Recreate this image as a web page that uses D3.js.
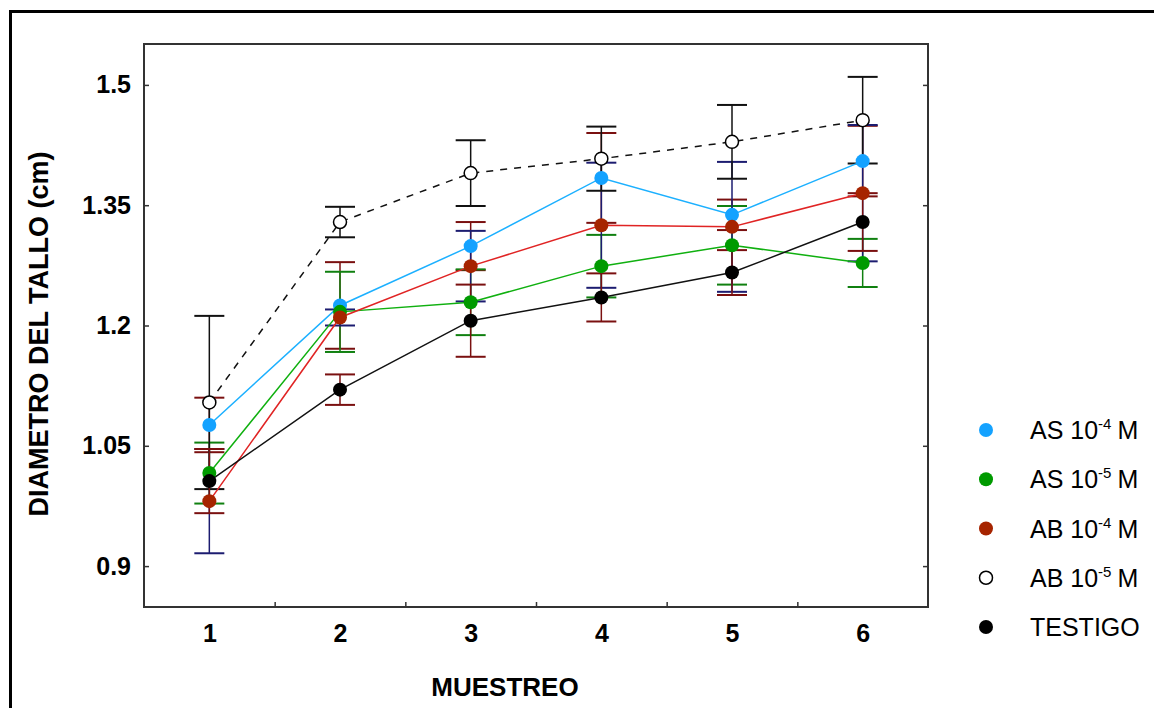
<!DOCTYPE html>
<html>
<head>
<meta charset="utf-8">
<script src="https://cdn.jsdelivr.net/npm/d3@7"></script>
<style>
	body { margin: 0; background: #fff; }
	svg { display: block; font-family: "Liberation Sans", Arial, sans-serif; }
	.tick-label text { font-size: 25px; font-weight: bold; fill: #000; }
	.axis-title { font-size: 26px; font-weight: bold; fill: #000; }
	.legend-label { font-size: 25px; fill: #000; }
</style>
</head>
<body>
<svg id="plot"></svg>
<script>
const WIDTH = 1154;
const HEIGHT = 708;

const plot = d3.select("#plot").attr("width", WIDTH).attr("height", HEIGHT);

// data
const muestreo = [1, 2, 3, 4, 5, 6];
const asMinus4 = [1.076, 1.225, 1.299, 1.384, 1.338, 1.405];
const asMinus4Err = [0.034, 0.054, 0.030, 0.056, 0.019, 0.044];
const asMinus5 = [1.016, 1.217, 1.229, 1.274, 1.300, 1.278];
const asMinus5Err = [0.038, 0.050, 0.041, 0.039, 0.049, 0.030];
const abMinus4 = [0.981, 1.210, 1.274, 1.325, 1.323, 1.365];
const abMinus4Err = [0.065, 0.010, 0.044, 0.078, 0.081, 0.085];
const abMinus5 = [1.104, 1.329, 1.390, 1.408, 1.429, 1.456];
const abMinus5Err = [0.108, 0.019, 0.041, 0.040, 0.046, 0.054];
const testigo = [1.006, 1.120, 1.206, 1.235, 1.266, 1.329];
const testigoErr = [0.040, 0.019, 0.045, 0.030, 0.028, 0.036];

const yTicks = [0.9, 1.05, 1.2, 1.35, 1.5];
const xMinorTicks = [1.5, 2.5, 3.5, 4.5, 5.5];
const legendBase = ["AS 10", "AS 10", "AB 10", "AB 10", "TESTIGO"];
const legendExp = ["-4", "-5", "-4", "-5", ""];

const seriesList = [
	{ values: asMinus4, errs: asMinus4Err, line: "#1cb0ff", marker: "#14a2ff", bar: "#7a1010", open: false, dash: null },
	{ values: asMinus5, errs: asMinus5Err, line: "#10b010", marker: "#009a00", bar: "#108010", open: false, dash: null },
	{ values: abMinus4, errs: abMinus4Err, line: "#e02424", marker: "#a62400", bar: "#1c1c70", open: false, dash: null },
	{ values: abMinus5, errs: abMinus5Err, line: "#111", marker: "#000", bar: "#111", open: true, dash: "7,7" },
	{ values: testigo, errs: testigoErr, line: "#111", marker: "#000", bar: "#7a1010", open: false, dash: null },
];

const box = { left: 144, top: 44, right: 928, bottom: 607 };
const xScale = d3.scaleLinear([0.5, 6.5], [box.left, box.right]);
const yScale = d3.scaleLinear([0.849, 1.551], [box.bottom, box.top]);

// outer frame (only top and left fall inside the picture)
plot.append("rect")
	.attr("x", 10.5).attr("y", 11.5)
	.attr("width", 1200).attr("height", 800)
	.attr("fill", "none").attr("stroke", "#000").attr("stroke-width", 3);

// axes
const fmt = d => String(d);
plot.append("g")
	.attr("class", "tick-label")
	.attr("transform", `translate(${box.left},0)`)
	.call(d3.axisLeft(yScale).tickValues(yTicks).tickFormat(fmt)
		.tickSizeInner(-5).tickSizeOuter(0).tickPadding(13))
	.call(g => g.select(".domain").remove())
	.call(g => g.selectAll("line").attr("stroke", "#333").attr("stroke-width", 1.5))
	.call(g => g.selectAll("text").attr("font-family", null).attr("font-size", null));

plot.append("g")
	.attr("transform", `translate(${box.right},0)`)
	.call(d3.axisRight(yScale).tickValues(yTicks).tickFormat("")
		.tickSizeInner(-5).tickSizeOuter(0))
	.call(g => g.select(".domain").remove())
	.call(g => g.selectAll("line").attr("stroke", "#333").attr("stroke-width", 1.5));

plot.append("g")
	.attr("class", "tick-label")
	.attr("transform", `translate(0,${box.bottom})`)
	.call(d3.axisBottom(xScale).tickValues(muestreo).tickFormat(fmt)
		.tickSize(0).tickPadding(17))
	.call(g => g.select(".domain").remove())
	.call(g => g.selectAll("text").attr("font-family", null).attr("font-size", null));

plot.append("g")
	.attr("transform", `translate(0,${box.bottom})`)
	.call(d3.axisBottom(xScale).tickValues(xMinorTicks).tickFormat("")
		.tickSizeInner(-5).tickSizeOuter(0))
	.call(g => g.select(".domain").remove())
	.call(g => g.selectAll("line").attr("stroke", "#333").attr("stroke-width", 1.5));

plot.append("rect")
	.attr("x", box.left).attr("y", box.top)
	.attr("width", box.right - box.left).attr("height", box.bottom - box.top)
	.attr("fill", "none").attr("stroke", "#333").attr("stroke-width", 2);

// error bars
const capHalf = 15;
seriesList.forEach(s => {
	const g = plot.append("g").attr("stroke", s.bar).attr("fill", "none");
	s.values.forEach((v, i) => {
		const x = xScale(muestreo[i]);
		const y1 = yScale(v + s.errs[i]);
		const y2 = yScale(v - s.errs[i]);
		g.append("line").attr("x1", x).attr("x2", x).attr("y1", y1).attr("y2", y2).attr("stroke-width", 1.5);
		[y1, y2].forEach(y => {
			g.append("line").attr("x1", x - capHalf).attr("x2", x + capHalf)
				.attr("y1", y).attr("y2", y).attr("stroke-width", 2);
		});
	});
});

// lines
const line = d3.line().x((d, i) => xScale(muestreo[i])).y(d => yScale(d));
seriesList.forEach(s => {
	plot.append("path")
		.attr("d", line(s.values))
		.attr("fill", "none")
		.attr("stroke", s.line)
		.attr("stroke-width", 1.5)
		.attr("stroke-dasharray", s.dash);
});

// markers
const drawMarker = (sel, s, x, y) => {
	sel.append("circle")
		.attr("cx", x).attr("cy", y)
		.attr("r", s.open ? 6.5 : 7)
		.attr("fill", s.open ? "#fff" : s.marker)
		.attr("stroke", s.open ? "#000" : "none")
		.attr("stroke-width", 1.5);
};
seriesList.forEach(s => {
	s.values.forEach((v, i) => drawMarker(plot, s, xScale(muestreo[i]), yScale(v)));
});

// legend
const legend = plot.append("g");
const legendY = d3.scaleLinear([0, 4], [430, 627]);
seriesList.forEach((s, i) => {
	const y = legendY(i);
	drawMarker(legend, s, 986, y);
	const t = legend.append("text")
		.attr("class", "legend-label")
		.attr("x", 1030)
		.attr("y", y + 9);
	t.append("tspan").text(legendBase[i]);
	if (legendExp[i]) {
		t.append("tspan").attr("dy", -10).attr("font-size", 15).text(legendExp[i]);
		t.append("tspan").attr("dy", 10).attr("dx", 6).text("M");
	}
});

// titles
plot.append("text")
	.attr("class", "axis-title")
	.attr("text-anchor", "middle")
	.attr("transform", "translate(48,334) rotate(-90)")
	.style("font-size", "27px")
	.text("DIAMETRO DEL TALLO (cm)");

plot.append("text")
	.attr("class", "axis-title")
	.attr("text-anchor", "middle")
	.attr("x", 505)
	.attr("y", 696)
	.text("MUESTREO");
</script>
</body>
</html>
